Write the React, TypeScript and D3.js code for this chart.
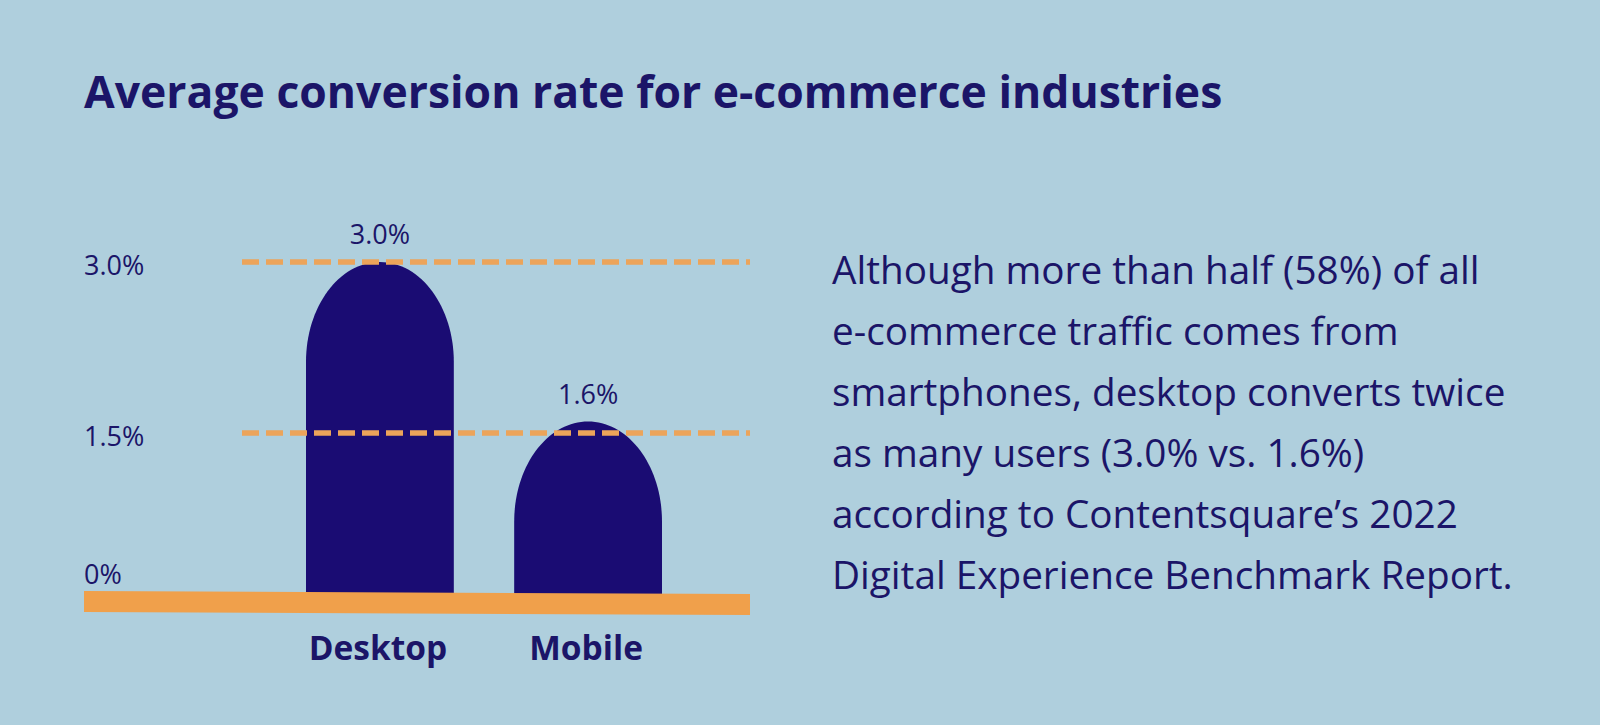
import React from "react";
import * as d3 from "d3";

const title = "Average conversion rate for e-commerce industries";
const categories = ["Desktop", "Mobile"];
const values = [3.0, 1.6];
const valueLabels = ["3.0%", "1.6%"];
const gridTicks = [3.0, 1.5];
const axisTicks = [3.0, 1.5, 0];
const axisTickLabels = ["3.0%", "1.5%", "0%"];
const bodyLines = [
  "Although more than half (58%) of all",
  "e-commerce traffic comes from",
  "smartphones, desktop converts twice",
  "as many users (3.0% vs. 1.6%)",
  "according to Contentsquare\u2019s 2022",
  "Digital Experience Benchmark Report.",
];

const W = 1600;
const H = 725;
const BG = "#afcfdd";
const NAVY = "#1a0c73";
const TEXT = "#1b1568";
const ORANGE = "#f0a04b";
const DASH = "#eca45a";
const FONT = "'Open Sans', sans-serif";

export default function App() {
  const y = d3.scaleLinear().domain([0, 3]).range([604, 262]);
  const x = d3
    .scaleBand<string>()
    .domain(categories)
    .range([306, 662])
    .paddingInner(0.29)
    .paddingOuter(0);
  const bw = x.bandwidth();
  const ry = 100;
  const axisLeft = 84;
  const axisRight = 750;
  const gridLeft = 242;

  const barPath = (cat: string, v: number) => {
    const x0 = x(cat)!;
    const x1 = x0 + bw;
    const top = y(v);
    const bottom = y(0);
    const rx = bw / 2;
    const p = d3.path();
    p.moveTo(x0, bottom);
    p.lineTo(x0, top + ry);
    const k = 0.5523;
    p.bezierCurveTo(x0, top + ry - ry * k, x0 + rx - rx * k, top, x0 + rx, top);
    p.bezierCurveTo(x0 + rx + rx * k, top, x1, top + ry - ry * k, x1, top + ry);
    p.lineTo(x1, bottom);
    p.closePath();
    return p.toString();
  };

  const y0 = y(0);
  const band = d3.line()([
    [axisLeft, y0 - 13],
    [axisRight, y0 - 10],
    [axisRight, y0 + 11],
    [axisLeft, y0 + 8],
  ]) + "Z";

  return (
    <svg
      width={W}
      height={H}
      style={{ position: "absolute", left: 0, top: 0, display: "block" }}
    >
      <rect x={0} y={0} width={W} height={H} fill={BG} />
      <text
        x={84}
        y={108}
        fill={TEXT}
        fontFamily={FONT}
        fontWeight={700}
        fontSize={44.5}
      >
        {title}
      </text>

      {axisTicks.map((t, i) => (
        <text
          key={"yl" + i}
          x={axisLeft}
          y={t === 0 ? y0 - 20 : y(t) + 13}
          fill={TEXT}
          fontFamily={FONT}
          fontSize={27}
        >
          {axisTickLabels[i]}
        </text>
      ))}

      {categories.map((c, i) => (
        <path key={"b" + c} d={barPath(c, values[i])} fill={NAVY} />
      ))}

      {gridTicks.map((t) => (
        <line
          key={"g" + t}
          x1={gridLeft}
          x2={axisRight}
          y1={y(t)}
          y2={y(t)}
          stroke={DASH}
          strokeWidth={5.5}
          strokeDasharray="17 7"
        />
      ))}

      <path d={band} fill={ORANGE} />

      {categories.map((c, i) => (
        <text
          key={"v" + c}
          x={x(c)! + bw / 2}
          y={y(values[i]) - 18}
          textAnchor="middle"
          fill={TEXT}
          fontFamily={FONT}
          fontSize={27}
        >
          {valueLabels[i]}
        </text>
      ))}

      {categories.map((c) => (
        <text
          key={"c" + c}
          x={x(c)! + bw / 2 - 2}
          y={660}
          textAnchor="middle"
          fill={TEXT}
          fontFamily={FONT}
          fontWeight={700}
          fontSize={33.5}
        >
          {c}
        </text>
      ))}

      {bodyLines.map((l, i) => (
        <text
          key={"t" + i}
          x={832}
          y={284 + i * 61}
          fill={TEXT}
          fontFamily={FONT}
          fontSize={38.7}
        >
          {l}
        </text>
      ))}
    </svg>
  );
}
